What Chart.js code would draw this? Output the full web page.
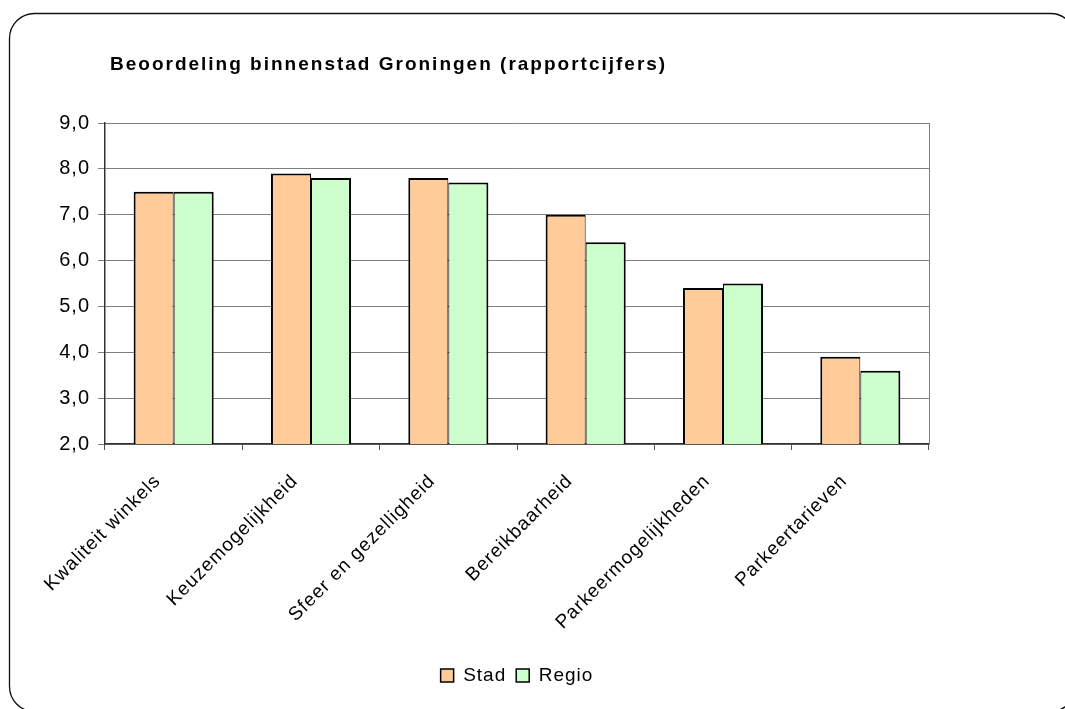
<!DOCTYPE html>
<html>
<head>
<meta charset="utf-8">
<script src="https://cdn.jsdelivr.net/npm/chart.js@4.4.1/dist/chart.umd.min.js"></script>
<style>
  html, body { margin: 0; padding: 0; background: #fff; }
  #c { display: block; }
</style>
</head>
<body>
<canvas id="c" width="1065" height="709"></canvas>
<script>
// Categories and ratings (rapportcijfers) per group
const categories = [
  'Kwaliteit winkels',
  'Keuzemogelijkheid',
  'Sfeer en gezelligheid',
  'Bereikbaarheid',
  'Parkeermogelijkheden',
  'Parkeertarieven'
];
const stad = [7.5, 7.9, 7.8, 7.0, 5.4, 3.9];
const regio = [7.5, 7.8, 7.7, 6.4, 5.5, 3.6];
const seriesNames = ['Stad', 'Regio'];
const yTicks = [2, 3, 4, 5, 6, 7, 8, 9];
const titleText = 'Beoordeling binnenstad Groningen (rapportcijfers)';

const FONT = '"Liberation Sans", Arial, sans-serif';
const SPACING = '1px';

// Slightly spaced lettering for all chart text
const spacingPlugin = {
  id: 'spacing',
  afterInit(chart) { chart.ctx.letterSpacing = SPACING; },
  beforeUpdate(chart) { chart.ctx.letterSpacing = SPACING; },
  beforeDraw(chart) { chart.ctx.letterSpacing = SPACING; },
  afterLayout(chart) {
    // centre the legend under the plot area
    const lg = chart.legend, a = chart.chartArea;
    if (lg) {
      lg.left = a.left;
      lg.right = a.right;
      lg.width = a.right - a.left;
    }
  }
};

// Rounded frame around the whole chart plus the title
const framePlugin = {
  id: 'frame',
  beforeDraw(chart) {
    const ctx = chart.ctx;
    ctx.save();
    ctx.fillStyle = '#ffffff';
    ctx.fillRect(0, 0, chart.width, chart.height);
    const x = 9.5, y = 13.5, w = 1066, h = 698, r = 25;
    ctx.beginPath();
    ctx.moveTo(x + r, y);
    ctx.lineTo(x + w - r, y);
    ctx.arcTo(x + w, y, x + w, y + r, r);
    ctx.lineTo(x + w, y + h - r);
    ctx.arcTo(x + w, y + h, x + w - r, y + h, r);
    ctx.lineTo(x + r, y + h);
    ctx.arcTo(x, y + h, x, y + h - r, r);
    ctx.lineTo(x, y + r);
    ctx.arcTo(x, y, x + r, y, r);
    ctx.closePath();
    ctx.strokeStyle = '#111';
    ctx.lineWidth = 1.3;
    ctx.stroke();

    ctx.fillStyle = '#000';
    ctx.font = 'bold 19px ' + FONT;
    ctx.textBaseline = 'alphabetic';
    ctx.textAlign = 'left';
    ctx.letterSpacing = '2px';
    ctx.fillText(titleText, 110, 70);
    ctx.restore();
  },
  beforeDatasetsDraw(chart) {
    // right edge of the plot area
    const ctx = chart.ctx;
    const a = chart.chartArea;
    ctx.save();
    ctx.strokeStyle = '#7f7f7f';
    ctx.lineWidth = 1;
    ctx.beginPath();
    ctx.moveTo(Math.round(a.right) + 0.5, a.top);
    ctx.lineTo(Math.round(a.right) + 0.5, a.bottom);
    ctx.stroke();
    ctx.restore();
  }
};

new Chart(document.getElementById('c'), {
  type: 'bar',
  data: {
    labels: categories,
    datasets: [
      {
        label: seriesNames[0],
        data: stad,
        backgroundColor: '#FFCC99',
        borderColor: '#000',
        borderWidth: { top: 2, left: 2, right: 1, bottom: 0 },
        borderSkipped: false
      },
      {
        label: seriesNames[1],
        data: regio,
        backgroundColor: '#CCFFCC',
        borderColor: '#000',
        borderWidth: { top: 2, left: 1, right: 2, bottom: 0 },
        borderSkipped: false
      }
    ]
  },
  options: {
    responsive: false,
    animation: false,
    devicePixelRatio: 1,
    categoryPercentage: 0.583,
    barPercentage: 1,
    layout: { padding: { left: 0, right: 136, top: 123, bottom: 14 } },
    plugins: {
      title: { display: false },
      tooltip: { enabled: false },
      legend: {
        position: 'bottom',
        labels: {
          font: { family: FONT, size: 19 },
          color: '#000',
          boxWidth: 13,
          boxHeight: 13,
          padding: 10,
          generateLabels(chart) {
            return Chart.defaults.plugins.legend.labels.generateLabels(chart)
              .map(l => Object.assign(l, { lineWidth: 1.5, strokeStyle: '#000' }));
          }
        }
      }
    },
    scales: {
      x: {
        offset: true,
        grid: {
          offset: true,
          drawOnChartArea: false,
          drawTicks: true,
          tickLength: 6,
          color: '#555',
          lineWidth: 1
        },
        border: { display: true, color: '#333', width: 1.5 },
        ticks: {
          font: { family: FONT, size: 19 },
          color: '#000',
          minRotation: 45,
          maxRotation: 45,
          autoSkip: false,
          padding: 20,
          labelOffset: -16
        },
        afterFit(scale) { scale.height = 212; }
      },
      y: {
        min: 2,
        max: 9,
        afterBuildTicks(scale) { scale.ticks = yTicks.map(v => ({ value: v })); },
        grid: {
          color: '#7f7f7f',
          lineWidth: 1,
          tickLength: 7
        },
        border: { display: true, color: '#333', width: 1.5 },
        ticks: {
          font: { family: FONT, size: 20 },
          color: '#000',
          padding: 8,
          callback: v => Number(v).toFixed(1).replace('.', ',')
        },
        afterFit(scale) { scale.width = 105; }
      }
    }
  },
  plugins: [spacingPlugin, framePlugin]
});
</script>
</body>
</html>
